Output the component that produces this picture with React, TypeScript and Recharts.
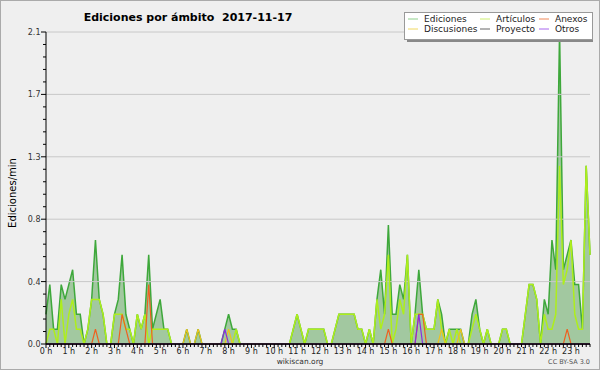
import React from 'react';
import { ComposedChart, Area, Line, XAxis, YAxis, ReferenceLine } from 'recharts';

// one slot every 10 minutes, 00:00 .. 23:50
const slots = Array.from({ length: 144 }, (_, i) => i * 10);

const hourLabels = [
  '0 h', '1 h', '2 h', '3 h', '4 h', '5 h', '6 h', '7 h', '8 h', '9 h', '10 h', '11 h',
  '12 h', '13 h', '14 h', '15 h', '16 h', '17 h', '18 h', '19 h', '20 h', '21 h', '22 h', '23 h',
];

const yMajor = [0, 0.42, 0.84, 1.26, 1.68, 2.1];
const yLabels = ['0.0', '0.4', '0.8', '1.3', '1.7', '2.1'];

// edits per minute, one row = 2 hours
const ediciones = [
  0.2, 0.4, 0.1, 0.1, 0.4, 0.3, 0.4, 0.5, 0.2, 0.2, 0, 0.1,
  0.3, 0.7, 0.3, 0.2, 0, 0, 0.2, 0.3, 0.6, 0.2, 0.1, 0,
  0.2, 0.1, 0.2, 0.6, 0.1, 0.2, 0.3, 0.1, 0.1, 0, 0, 0,
  0, 0.1, 0, 0, 0.1, 0, 0, 0, 0, 0, 0, 0.1,
  0.2, 0.1, 0.1, 0, 0, 0, 0, 0, 0, 0, 0, 0,
  0, 0, 0, 0, 0, 0.1, 0.2, 0.1, 0, 0.1, 0.1, 0.1,
  0.1, 0.1, 0, 0, 0.1, 0.2, 0.2, 0.2, 0.2, 0.2, 0.1, 0.1,
  0, 0.1, 0, 0.3, 0.5, 0.2, 0.8, 0.2, 0.2, 0.4, 0.3, 0.6,
  0, 0.2, 0.5, 0.2, 0.1, 0.1, 0.1, 0.3, 0.2, 0, 0.1, 0.1,
  0.1, 0.1, 0, 0, 0.2, 0.3, 0.1, 0, 0.1, 0, 0, 0,
  0.1, 0.1, 0, 0, 0, 0, 0.2, 0.4, 0.4, 0.3, 0, 0.3,
  0.2, 0.7, 0.5, 2.1, 0.5, 0.6, 0.7, 0.4, 0.4, 0.1, 1.2, 0.6,
];

const articulos = [
  0, 0.1, 0.1, 0, 0.3, 0, 0.2, 0.3, 0.1, 0.1, 0, 0.1,
  0.3, 0.3, 0.3, 0.2, 0, 0, 0.2, 0.2, 0.2, 0.1, 0.1, 0,
  0.2, 0.1, 0.2, 0, 0.1, 0.1, 0.1, 0.1, 0.1, 0, 0, 0,
  0, 0, 0, 0, 0, 0, 0, 0, 0, 0, 0, 0,
  0, 0, 0.1, 0, 0, 0, 0, 0, 0, 0, 0, 0,
  0, 0, 0, 0, 0, 0.1, 0.2, 0.1, 0, 0.1, 0.1, 0.1,
  0.1, 0.1, 0, 0, 0.1, 0.2, 0.2, 0.2, 0.2, 0.2, 0.1, 0.1,
  0, 0.1, 0, 0.3, 0.1, 0.2, 0.6, 0, 0.1, 0.3, 0.2, 0.6,
  0, 0.2, 0.2, 0.2, 0.1, 0.1, 0.1, 0.3, 0.1, 0, 0.1, 0,
  0.1, 0, 0, 0, 0.1, 0.2, 0.1, 0, 0.1, 0, 0, 0,
  0.1, 0.1, 0, 0, 0, 0, 0.2, 0.4, 0.4, 0.3, 0, 0.2,
  0.1, 0.1, 0.2, 1.2, 0.4, 0.5, 0.7, 0.2, 0.1, 0.1, 1.2, 0.6,
];

const anexos = [
  0, 0, 0, 0, 0, 0, 0, 0, 0, 0, 0, 0,
  0, 0.1, 0, 0, 0, 0, 0, 0, 0.2, 0.1, 0, 0,
  0, 0, 0, 0.4, 0, 0, 0, 0, 0, 0, 0, 0,
  0, 0, 0, 0, 0, 0, 0, 0, 0, 0, 0, 0,
  0, 0, 0, 0, 0, 0, 0, 0, 0, 0, 0, 0,
  0, 0, 0, 0, 0, 0, 0, 0, 0, 0, 0, 0,
  0, 0, 0, 0, 0, 0, 0, 0, 0, 0, 0, 0,
  0, 0, 0, 0, 0, 0, 0.1, 0, 0, 0, 0, 0,
  0, 0, 0.2, 0.2, 0, 0, 0, 0, 0, 0, 0, 0,
  0, 0, 0, 0, 0, 0, 0, 0, 0, 0, 0, 0,
  0, 0, 0, 0, 0, 0, 0, 0, 0, 0, 0, 0,
  0, 0, 0, 0, 0, 0.1, 0, 0, 0, 0, 0, 0,
];

const discusiones = [
  0, 0, 0, 0, 0, 0, 0, 0, 0, 0, 0, 0,
  0, 0, 0, 0, 0, 0, 0, 0, 0, 0, 0, 0,
  0, 0, 0, 0, 0, 0, 0, 0, 0, 0, 0, 0,
  0, 0.1, 0, 0, 0.1, 0, 0, 0, 0, 0, 0, 0,
  0.1, 0, 0, 0, 0, 0, 0, 0, 0, 0, 0, 0,
  0, 0, 0, 0, 0, 0, 0, 0, 0, 0, 0, 0,
  0, 0, 0, 0, 0, 0, 0, 0, 0, 0, 0, 0,
  0, 0, 0, 0, 0, 0, 0, 0, 0, 0, 0, 0,
  0, 0, 0, 0, 0, 0, 0, 0, 0.1, 0, 0, 0,
  0, 0.1, 0, 0, 0, 0, 0, 0, 0, 0, 0, 0,
  0, 0, 0, 0, 0, 0, 0, 0, 0, 0, 0, 0,
  0, 0, 0, 0, 0, 0, 0, 0, 0, 0, 0, 0,
];

const proyecto = [
  0, 0, 0, 0, 0, 0, 0, 0, 0, 0, 0, 0,
  0, 0, 0, 0, 0, 0, 0, 0, 0, 0, 0, 0,
  0, 0, 0, 0, 0, 0, 0, 0, 0, 0, 0, 0,
  0, 0, 0, 0, 0, 0, 0, 0, 0, 0, 0, 0,
  0, 0, 0, 0, 0, 0, 0, 0, 0, 0, 0, 0,
  0, 0, 0, 0, 0, 0, 0, 0, 0, 0, 0, 0,
  0, 0, 0, 0, 0, 0, 0, 0, 0, 0, 0, 0,
  0, 0, 0, 0, 0, 0, 0, 0, 0, 0, 0, 0,
  0, 0, 0, 0, 0, 0, 0, 0, 0, 0, 0, 0,
  0, 0, 0, 0, 0, 0, 0, 0, 0, 0, 0, 0,
  0, 0, 0, 0, 0, 0, 0, 0, 0, 0, 0, 0,
  0, 0, 0, 0, 0, 0, 0, 0, 0, 0, 0, 0,
];

const otros = [
  0, 0, 0, 0, 0, 0, 0, 0, 0, 0, 0, 0,
  0, 0, 0, 0, 0, 0, 0, 0, 0, 0, 0, 0,
  0, 0, 0, 0, 0, 0, 0, 0, 0, 0, 0, 0,
  0, 0, 0, 0, 0, 0, 0, 0, 0, 0, 0, 0.1,
  0, 0, 0, 0, 0, 0, 0, 0, 0, 0, 0, 0,
  0, 0, 0, 0, 0, 0, 0, 0, 0, 0, 0, 0,
  0, 0, 0, 0, 0, 0, 0, 0, 0, 0, 0, 0,
  0, 0, 0, 0, 0, 0, 0, 0, 0, 0, 0, 0,
  0, 0, 0.2, 0, 0, 0, 0, 0, 0, 0, 0, 0,
  0, 0, 0, 0, 0, 0, 0, 0, 0, 0, 0, 0,
  0, 0, 0, 0, 0, 0, 0, 0, 0, 0, 0, 0,
  0, 0, 0, 0, 0, 0, 0, 0, 0, 0, 0, 0,
];

const COLORS = {
  ediciones: '#3ea83b',
  edicionesFill: '#a2c8a0',
  articulos: '#aeee1c',
  anexos: '#ee6020',
  discusiones: '#eec21e',
  proyecto: '#555555',
  otros: '#8a2be2',
};

const data = slots.map((m, i) => ({
  m,
  ediciones: ediciones[i],
  articulos: articulos[i],
  anexos: anexos[i],
  discusiones: discusiones[i],
  proyecto: proyecto[i],
  otros: otros[i],
}));

// 4 minor ticks between each labelled y tick
const yTicks: number[] = [];
yMajor.forEach((v, k) => {
  yTicks.push(v);
  if (k < yMajor.length - 1) {
    const step = (yMajor[k + 1] - v) / 5;
    for (let j = 1; j < 5; j++) yTicks.push(v + step * j);
  }
});

const FONT = '"DejaVu Sans", sans-serif';

function XTick({ x, y, payload }: any) {
  const m = payload.value;
  const major = m % 60 === 0;
  return (
    <g>
      <line x1={x} x2={x} y1={y} y2={y + (major ? 4 : 3)} stroke="#000" />
      {major && (
        <text x={x} y={y + 10} textAnchor="middle" fontSize={8} fontFamily={FONT} fill="#222">
          {hourLabels[m / 60]}
        </text>
      )}
    </g>
  );
}

function YTick({ x, y, payload }: any) {
  const idx = yMajor.findIndex((t) => Math.abs(t - payload.value) < 1e-6);
  const major = idx >= 0;
  return (
    <g>
      <line x1={x - (major ? 5 : 3)} x2={x} y1={y} y2={y} stroke="#000" />
      {major && (
        <text x={x - 5.5} y={y + 3} textAnchor="end" fontSize={8} fontFamily={FONT} fill="#333">
          {yLabels[idx]}
        </text>
      )}
    </g>
  );
}

const legendItems = [
  { name: 'Ediciones', color: '#8fd08c', x: 408, row: 0 },
  { name: 'Discusiones', color: '#f0d860', x: 408, row: 1 },
  { name: 'Artículos', color: '#cdee70', x: 480, row: 0 },
  { name: 'Proyecto', color: '#666666', x: 480, row: 1 },
  { name: 'Anexos', color: '#f08858', x: 539, row: 0 },
  { name: 'Otros', color: '#a866ee', x: 539, row: 1 },
];

export default function App() {
  return (
    <div style={{ position: 'absolute', left: 0, top: 0, width: 600, height: 370, background: '#efefef' }}>
      <ComposedChart width={600} height={370} data={data} margin={{ top: 32, right: 10, bottom: 0, left: 0 }}>
        {yMajor.slice(1).map((v) => (
          <ReferenceLine key={v} y={v} stroke="#c8c8c8" strokeWidth={1} />
        ))}
        <XAxis
          dataKey="m"
          type="number"
          domain={[0, 1430]}
          ticks={slots}
          interval={0}
          height={26}
          tickSize={0}
          tickMargin={0}
          tick={XTick}
          axisLine={{ stroke: '#000' }}
        />
        <YAxis
          type="number"
          domain={[0, 2.1]}
          ticks={yTicks}
          interval={0}
          width={46}
          tickSize={0}
          tickMargin={0}
          tick={YTick}
          axisLine={{ stroke: '#000' }}
        />
        <Area
          type="linear"
          dataKey="ediciones"
          stroke={COLORS.ediciones}
          strokeWidth={1.5}
          fill={COLORS.edicionesFill}
          fillOpacity={1}
          dot={false}
          activeDot={false}
          isAnimationActive={false}
        />
        <Line type="linear" dataKey="articulos" stroke={COLORS.articulos} strokeWidth={1.5} dot={false} activeDot={false} isAnimationActive={false} />
        <Line type="linear" dataKey="anexos" stroke={COLORS.anexos} strokeWidth={1.2} dot={false} activeDot={false} isAnimationActive={false} />
        <Line type="linear" dataKey="discusiones" stroke={COLORS.discusiones} strokeWidth={1.2} dot={false} activeDot={false} isAnimationActive={false} />
        <Line type="linear" dataKey="proyecto" stroke={COLORS.proyecto} strokeWidth={1.2} dot={false} activeDot={false} isAnimationActive={false} />
        <Line type="linear" dataKey="otros" stroke={COLORS.otros} strokeWidth={1.2} dot={false} activeDot={false} isAnimationActive={false} />
        <ReferenceLine y={0} stroke="#000" strokeWidth={1} />
      </ComposedChart>

      <svg width={600} height={370} style={{ position: 'absolute', left: 0, top: 0, pointerEvents: 'none' }}>
        <rect x={0.5} y={0.5} width={599} height={369} fill="none" stroke="#aaaaaa" />
        <text x={188} y={21} textAnchor="middle" fontFamily={FONT} fontSize={11} fontWeight="bold" fill="#000" style={{ whiteSpace: 'pre' }}>
          {'Ediciones por ámbito  2017-11-17'}
        </text>
        <text x={16} y={193} transform="rotate(-90 16 193)" textAnchor="middle" fontFamily={FONT} fontSize={10} fill="#000">
          Ediciones/min
        </text>
        <text x={300} y={364} textAnchor="middle" fontFamily={FONT} fontSize={7.5} fill="#333">
          wikiscan.org
        </text>
        <text x={590} y={364} textAnchor="end" fontFamily={FONT} fontSize={6.5} fill="#555">
          CC BY-SA 3.0
        </text>

        <rect x={407} y={15} width={186} height={27} fill="#888888" />
        <rect x={404.5} y={12.5} width={188} height={27} fill="#ffffff" stroke="#999999" />
        {legendItems.map((it) => {
          const cy = it.row === 0 ? 19 : 29;
          return (
            <g key={it.name}>
              <line x1={it.x} x2={it.x + 10} y1={cy} y2={cy} stroke={it.color} strokeWidth={1} />
              <text x={it.x + 16} y={cy + 3} fontFamily={FONT} fontSize={9} fill="#222">
                {it.name}
              </text>
            </g>
          );
        })}
      </svg>
    </div>
  );
}
